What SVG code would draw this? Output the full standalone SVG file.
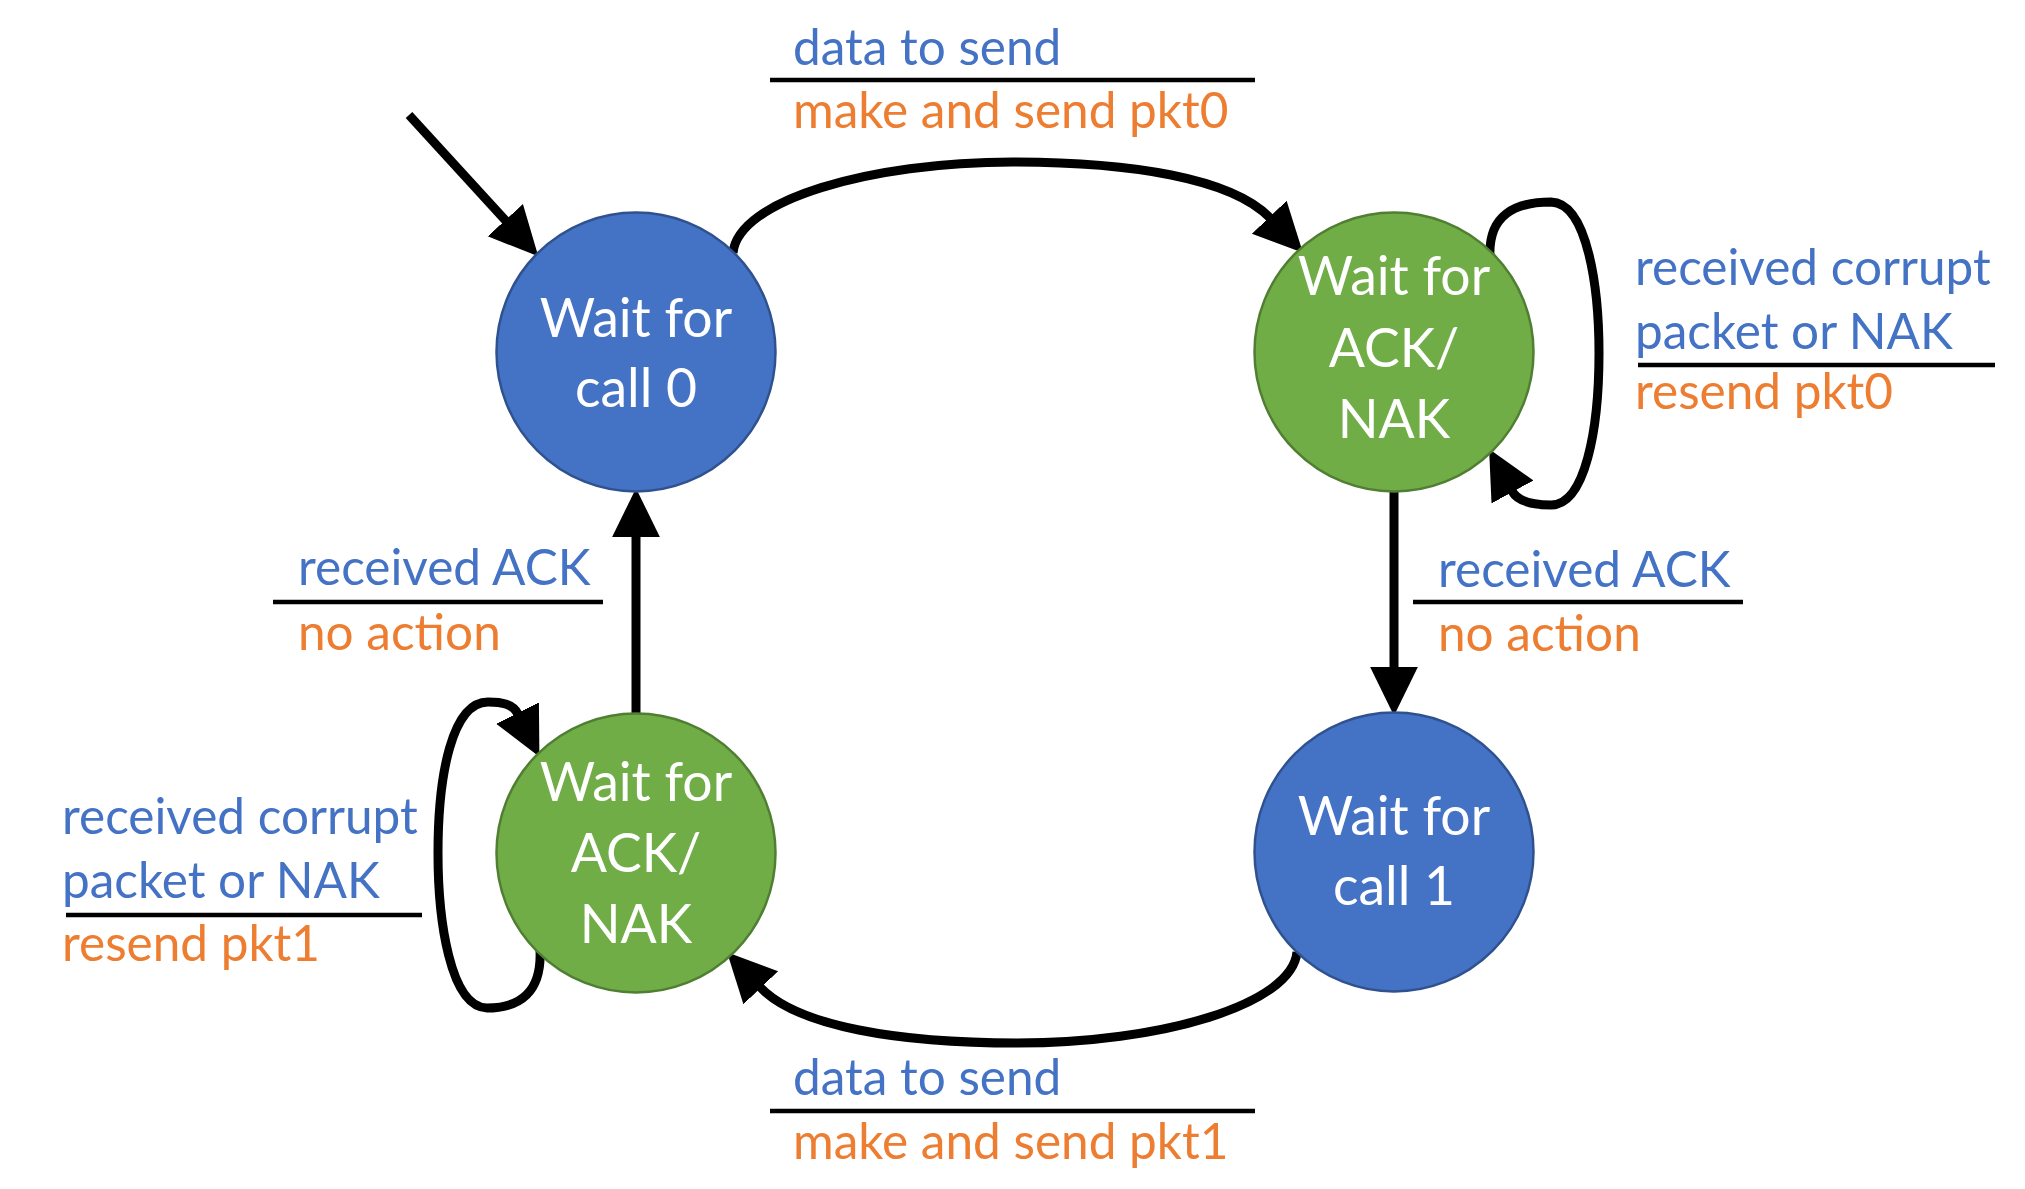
<svg xmlns="http://www.w3.org/2000/svg" width="2025" height="1189" viewBox="0 0 2025 1189">
<defs>
<marker id="ah" markerUnits="userSpaceOnUse" markerWidth="50" markerHeight="50" refX="1" refY="22" orient="auto" viewBox="0 0 46 44">
<path d="M0,0 L45,22 L0,44 z" fill="#000"/>
</marker>
<style>
.blue{fill:#4472C4;stroke:#2F528F;stroke-width:2.5}
.green{fill:#70AD47;stroke:#507E32;stroke-width:2.5}
.nt{font-family:Lato,"Liberation Sans",sans-serif;font-size:53.5px;fill:#fff;text-anchor:middle}
.lb{font-family:Lato,"Liberation Sans",sans-serif;font-size:49.5px;fill:#4472C4}
.lo{font-family:Lato,"Liberation Sans",sans-serif;font-size:49.5px;fill:#ED7D31}
.bar{stroke:#000;stroke-width:4.5}
.edge{fill:none;stroke:#000;stroke-width:9;marker-end:url(#ah)}
</style>
</defs>
<rect width="2025" height="1189" fill="#fff"/>
<g id="connectors">
<path class="edge" d="M409 115 L506 221"/>
<path class="edge" d="M733 253 C738 200 870 162 1013 162 C1130 162 1232 178 1270 218"/>
<path class="edge" d="M1490 257 C1488 215 1515 202 1551 202 C1588 203 1599 290 1599 353 C1599 430 1585 505 1551 505 C1535 505 1518 502 1512 491"/>
<path class="edge" d="M1394 492 L1394 668"/>
<path class="edge" d="M1297 952 C1292 1005 1160 1043 1017 1043 C900 1043 798 1027 760 987"/>
<path class="edge" d="M540 950 C542 992 520 1008 487 1008 C450 1007 438 920 438 853 C438 775 452 702 488 702 C502 702 513 704 518 714"/>
<path class="edge" d="M636 714 L636 536"/>
</g>
<g id="node-wait-call-0">
<circle class="blue" cx="636" cy="352" r="139.5"/>
<text class="nt" x="636" y="337">Wait for</text>
<text class="nt" x="636" y="407">call 0</text>
</g>
<g id="node-wait-ack-nak-0">
<circle class="green" cx="1394" cy="352" r="139.5"/>
<text class="nt" x="1394" y="295">Wait for</text>
<text class="nt" x="1394" y="367">ACK/</text>
<text class="nt" x="1394" y="438">NAK</text>
</g>
<g id="node-wait-call-1">
<circle class="blue" cx="1394" cy="852" r="139.5"/>
<text class="nt" x="1394" y="835">Wait for</text>
<text class="nt" x="1394" y="905">call 1</text>
</g>
<g id="node-wait-ack-nak-1">
<circle class="green" cx="636" cy="853" r="139.5"/>
<text class="nt" x="636" y="801">Wait for</text>
<text class="nt" x="636" y="872">ACK/</text>
<text class="nt" x="636" y="943">NAK</text>
</g>
<g id="labels">
<text class="lb" x="793" y="65">data to send</text>
<line class="bar" x1="770" y1="80" x2="1255" y2="80"/>
<text class="lo" x="793" y="128">make and send pkt0</text>

<text class="lb" x="1635" y="285">received corrupt</text>
<text class="lb" x="1635" y="349">packet or NAK</text>
<line class="bar" x1="1638" y1="365" x2="1995" y2="365"/>
<text class="lo" x="1635" y="409">resend pkt0</text>

<text class="lb" x="1438" y="587">received ACK</text>
<line class="bar" x1="1413" y1="602" x2="1743" y2="602"/>
<text class="lo" x="1438" y="651">no action</text>

<text class="lb" x="298" y="585">received ACK</text>
<line class="bar" x1="273" y1="602" x2="603" y2="602"/>
<text class="lo" x="298" y="650">no action</text>

<text class="lb" x="62" y="834">received corrupt</text>
<text class="lb" x="62" y="898">packet or NAK</text>
<line class="bar" x1="66" y1="915" x2="422" y2="915"/>
<text class="lo" x="62" y="961">resend pkt1</text>

<text class="lb" x="793" y="1095">data to send</text>
<line class="bar" x1="770" y1="1111" x2="1255" y2="1111"/>
<text class="lo" x="793" y="1159">make and send pkt1</text>
</g>
</svg>
